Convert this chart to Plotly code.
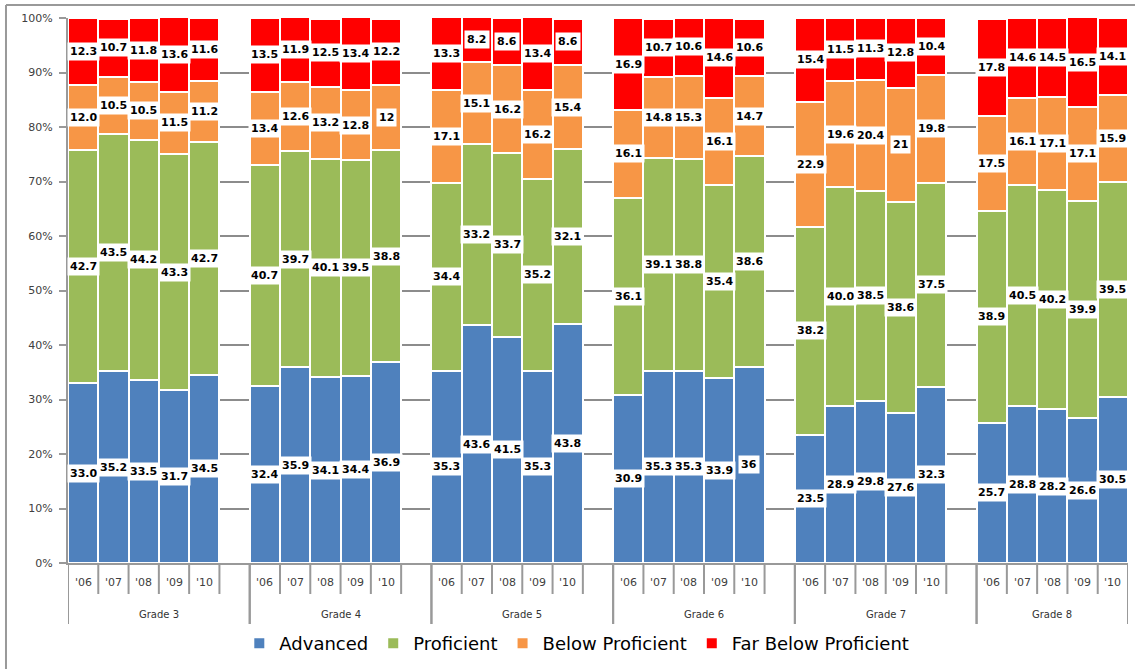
import plotly.graph_objects as go

# Achievement level shares (percent of students) by grade and school year
grades = ["Grade 3", "Grade 4", "Grade 5", "Grade 6", "Grade 7", "Grade 8"]
years = ["'06", "'07", "'08", "'09", "'10"]

advanced = [
    "33.0", "35.2", "33.5", "31.7", "34.5",
    "32.4", "35.9", "34.1", "34.4", "36.9",
    "35.3", "43.6", "41.5", "35.3", "43.8",
    "30.9", "35.3", "35.3", "33.9", "36",
    "23.5", "28.9", "29.8", "27.6", "32.3",
    "25.7", "28.8", "28.2", "26.6", "30.5",
]
proficient = [
    "42.7", "43.5", "44.2", "43.3", "42.7",
    "40.7", "39.7", "40.1", "39.5", "38.8",
    "34.4", "33.2", "33.7", "35.2", "32.1",
    "36.1", "39.1", "38.8", "35.4", "38.6",
    "38.2", "40.0", "38.5", "38.6", "37.5",
    "38.9", "40.5", "40.2", "39.9", "39.5",
]
below_proficient = [
    "12.0", "10.5", "10.5", "11.5", "11.2",
    "13.4", "12.6", "13.2", "12.8", "12",
    "17.1", "15.1", "16.2", "16.2", "15.4",
    "16.1", "14.8", "15.3", "16.1", "14.7",
    "22.9", "19.6", "20.4", "21", "19.8",
    "17.5", "16.1", "17.1", "17.1", "15.9",
]
far_below_proficient = [
    "12.3", "10.7", "11.8", "13.6", "11.6",
    "13.5", "11.9", "12.5", "13.4", "12.2",
    "13.3", "8.2", "8.6", "13.4", "8.6",
    "16.9", "10.7", "10.6", "14.6", "10.6",
    "15.4", "11.5", "11.3", "12.8", "10.4",
    "17.8", "14.6", "14.5", "16.5", "14.1",
]

series = [
    ("Advanced", advanced, "#4F81BD"),
    ("Proficient", proficient, "#9BBB59"),
    ("Below Proficient", below_proficient, "#F79646"),
    ("Far Below Proficient", far_below_proficient, "#FF0000"),
]

# Each grade takes five year slots plus one empty spacer slot (none after the last)
SLOTS_PER_GROUP = len(years) + 1
slot_x = [g * SLOTS_PER_GROUP + j for g in range(len(grades)) for j in range(len(years))]
last_slot = slot_x[-1]

AXIS_GREY = "#999999"
GRID_GREY = "#8c8c8c"
FONT = "DejaVu Sans"

fig = go.Figure()
annotations = []
base = [0.0] * len(slot_x)

for name, labels, color in series:
    vals = [float(s) for s in labels]
    fig.add_trace(go.Bar(
        x=slot_x, y=vals, name=name, width=1.0,
        marker=dict(color=color, line=dict(color="white", width=2)),
        hovertemplate=name + ": %{y}<extra></extra>",
    ))
    for i, (x, v, s) in enumerate(zip(slot_x, vals, labels)):
        annotations.append(dict(
            x=x, y=base[i] + v / 2, xref="x", yref="y", text=s,
            showarrow=False, bgcolor="white", borderpad=2,
            font=dict(family=FONT, size=11, color="black", weight="bold"),
        ))
        base[i] += v

shapes = []
# Category boxes below the axis: short ticks between years, long dividers between grades
for g, grade in enumerate(grades):
    start = g * SLOTS_PER_GROUP - 0.5
    n_slots = SLOTS_PER_GROUP if g < len(grades) - 1 else len(years)
    end = start + n_slots
    for k in range(1, n_slots):
        shapes.append(dict(type="line", xref="x", yref="paper", ysizemode="pixel", yanchor=0,
                           x0=start + k, x1=start + k, y0=0, y1=-31,
                           line=dict(color=AXIS_GREY, width=2)))
    for xb in (start, end):
        shapes.append(dict(type="line", xref="x", yref="paper", ysizemode="pixel", yanchor=0,
                           x0=xb, x1=xb, y0=0, y1=-61,
                           line=dict(color=AXIS_GREY, width=2)))
    annotations.append(dict(
        x=(start + end) / 2, y=0, xref="x", yref="paper", yshift=-51,
        text=grade, showarrow=False, yanchor="middle",
        font=dict(family=FONT, size=10, color="#333333"),
    ))
    for j, yr in enumerate(years):
        annotations.append(dict(
            x=g * SLOTS_PER_GROUP + j, y=0, xref="x", yref="paper", yshift=-19,
            text=yr, showarrow=False, yanchor="middle",
            font=dict(family=FONT, size=11, color="#404040"),
        ))

# Outer chart frame (left and top edges)
shapes.append(dict(type="line", xref="paper", yref="paper", x0=-0.0585, x1=-0.0585,
                   y0=1.0238, y1=-0.25, line=dict(color=AXIS_GREY, width=2)))
shapes.append(dict(type="line", xref="paper", yref="paper", x0=-0.0585, x1=1.05,
                   y0=1.0238, y1=1.0238, line=dict(color=AXIS_GREY, width=2)))

fig.update_layout(
    width=1135, height=669,
    margin=dict(l=68, r=7, t=18, b=104),
    barmode="stack", bargap=0,
    paper_bgcolor="white", plot_bgcolor="white",
    font=dict(family=FONT, color="#333333"),
    showlegend=True,
    legend=dict(orientation="h", x=0.48, xanchor="center", y=-0.148, yanchor="middle",
                traceorder="normal", font=dict(family=FONT, size=18, color="black")),
    annotations=annotations,
    shapes=shapes,
    xaxis=dict(range=[-0.5, last_slot + 0.5], showticklabels=False, ticks="",
               showgrid=False, zeroline=False, showline=True,
               linecolor=AXIS_GREY, linewidth=2, fixedrange=True),
    yaxis=dict(range=[0, 100], dtick=10, ticksuffix="%", showgrid=True,
               gridcolor=GRID_GREY, gridwidth=2, zeroline=False,
               showline=True, linecolor=AXIS_GREY, linewidth=2,
               ticks="outside", ticklen=7, tickwidth=2, tickcolor=AXIS_GREY,
               ticklabelstandoff=4,
               tickfont=dict(family=FONT, size=11, color="#404040"), fixedrange=True),
)

fig.write_html("out.html")
